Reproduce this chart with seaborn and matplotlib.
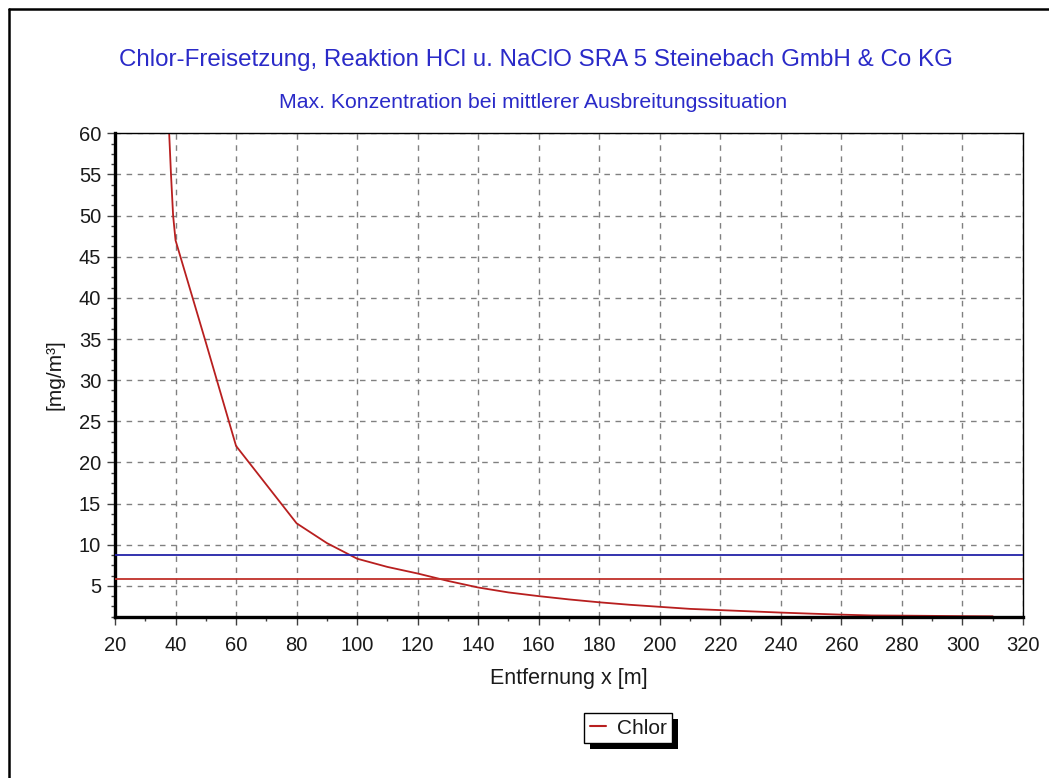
import matplotlib
matplotlib.use("Agg")
import matplotlib.pyplot as plt
import matplotlib.ticker as mticker
from matplotlib.lines import Line2D
from matplotlib.patches import Rectangle
import numpy as np
import pandas as pd
import seaborn as sns

# ---- data ----
distance_m = [37.9, 38.5, 39.2, 40, 50, 60, 70, 80, 90, 100, 110, 120, 130, 140,
              150, 160, 170, 180, 190, 200, 210, 220, 230, 240, 250, 260, 270,
              280, 290, 300, 310]
chlor_mg_m3 = [60, 55, 50, 47, 34.6, 22, 17.3, 12.6, 10.2, 8.3, 7.3, 6.5, 5.6, 4.8,
               4.2, 3.75, 3.35, 3.0, 2.7, 2.45, 2.2, 2.05, 1.9, 1.75, 1.62, 1.5, 1.4,
               1.38, 1.35, 1.32, 1.3]
threshold_blue = 8.8
threshold_red = 5.8
series_name = "Chlor"
title = "Chlor-Freisetzung, Reaktion HCl u. NaClO SRA 5 Steinebach GmbH & Co KG"
subtitle = "Max. Konzentration bei mittlerer Ausbreitungssituation"
xlabel = "Entfernung x [m]"
ylabel = "[mg/m³]"
xticks = list(range(20, 321, 20))
yticks = list(range(5, 61, 5))

df = pd.DataFrame({"x": distance_m, "y": chlor_mg_m3, "Stoff": series_name})

sns.set_theme(style="white")
plt.rcParams["font.family"] = ["Liberation Sans", "DejaVu Sans"]

W, H = 1049, 778
fig = plt.figure(figsize=(W / 100, H / 100), dpi=100)
fig.patch.set_facecolor("white")
ax = fig.add_axes([115 / W, 1 - 616.7 / H, (1023 - 115) / W, (616.7 - 133.3) / H])

curve_color = "#b81f1f"
sns.lineplot(data=df, x="x", y="y", ax=ax, color=curve_color, linewidth=1.3,
             legend=False, sort=False, estimator=None)
ax.axhline(threshold_blue, color="#2323a8", linewidth=1.3, zorder=3)
ax.axhline(threshold_red, color="#c0302a", linewidth=1.3, zorder=3)

ax.set_xlim(20, 320)
ax.set_ylim(1.25, 60)
ax.set_xticks(xticks)
ax.set_yticks(yticks)
ax.xaxis.set_minor_locator(mticker.MultipleLocator(10))
ax.yaxis.set_minor_locator(mticker.MultipleLocator(1.25))
ax.grid(True, which="major", color="#808080", linestyle=(0, (4, 4)), linewidth=1.0)
ax.set_axisbelow(True)

for side in ["left", "bottom"]:
    ax.spines[side].set_linewidth(2.4)
    ax.spines[side].set_color("black")
for side in ["top", "right"]:
    ax.spines[side].set_linewidth(1.0)
    ax.spines[side].set_color("black")

ax.tick_params(axis="x", which="major", pad=8)
ax.tick_params(axis="y", which="major", pad=4)
ax.tick_params(axis="both", which="major", direction="out", length=6, width=1.0,
               color="#404040", labelsize=14.5, labelcolor="#1a1a1a",
               left=True, bottom=True)
ax.tick_params(axis="both", which="minor", direction="out", length=3, width=1.0,
               color="#404040", left=True, bottom=True)

ax.set_xlabel(xlabel, fontsize=15.5, color="#1a1a1a", labelpad=9)
ax.set_ylabel(ylabel, fontsize=15, color="#1a1a1a", labelpad=10)

fig.text(536 / W, 1 - 60 / H, title, ha="center", va="center", fontsize=17.4,
         color="#2a2ac8")
fig.text(533 / W, 1 - 103 / H, subtitle, ha="center", va="center", fontsize=15.3,
         color="#2a2ac8")

handle = Line2D([], [], color=curve_color, linewidth=1.5)
leg = fig.legend([handle], [series_name], loc="center",
                 bbox_to_anchor=(628 / W, 1 - 728 / H), frameon=True,
                 fancybox=False, edgecolor="black", framealpha=1,
                 fontsize=15, handlelength=0.8, handletextpad=0.5,
                 borderpad=0.3, borderaxespad=0)
leg._legend_box.pad = 4
leg.get_frame().set_linewidth(1.0)
for t in leg.get_texts():
    t.set_color("#1a1a1a")

fig.canvas.draw()
bb = leg.get_window_extent()
shadow = Rectangle((bb.x0 + 6, bb.y0 - 6), bb.width, bb.height,
                   transform=None, facecolor="black", edgecolor="none", zorder=0)
fig.add_artist(shadow)
leg.set_zorder(5)

# outer frame (left & top edges)
fig.add_artist(Line2D([8.5 / W, 8.5 / W], [0, 1 - 8.5 / H], color="black",
                      linewidth=1.8, transform=fig.transFigure))
fig.add_artist(Line2D([8.5 / W, 1], [1 - 8.5 / H, 1 - 8.5 / H], color="black",
                      linewidth=1.8, transform=fig.transFigure))

fig.savefig("out.png", dpi=100, facecolor="white")
